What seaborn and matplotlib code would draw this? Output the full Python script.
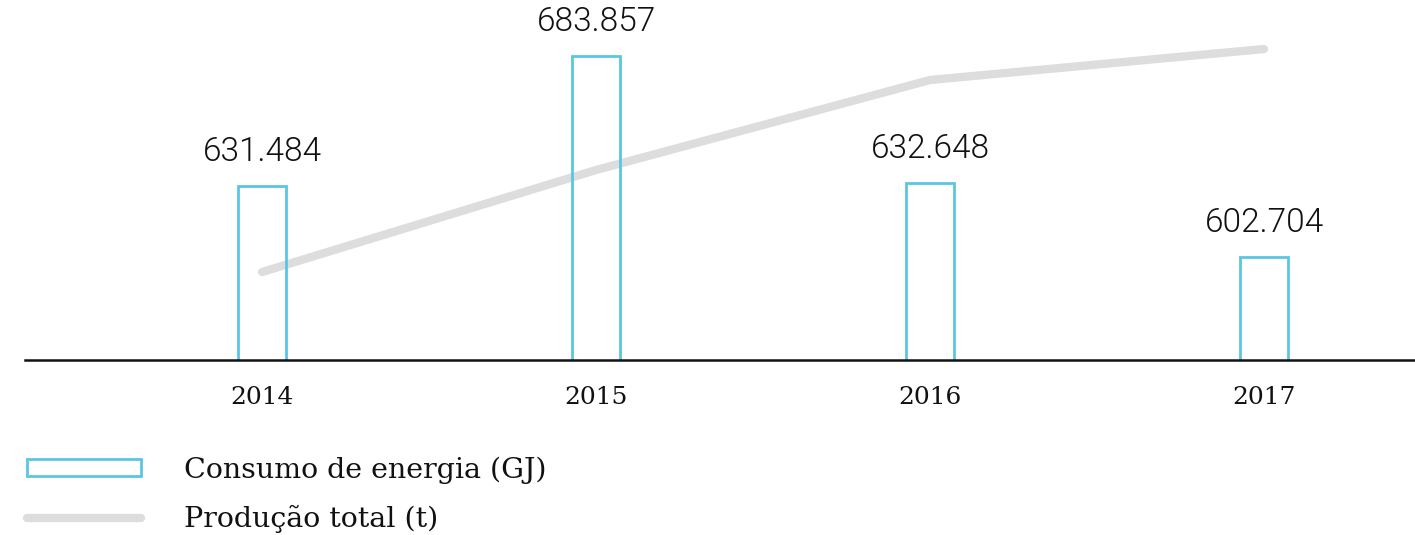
import numpy as np
import pandas as pd
import matplotlib
matplotlib.use('Agg')
import matplotlib.pyplot as plt
import seaborn as sns
from matplotlib.patches import Patch
from matplotlib.lines import Line2D

years = ['2014', '2015', '2016', '2017']
energy = [631484, 683857, 632648, 602704]  # Consumo de energia (GJ)
production = [88, 190, 280, 311]  # Produção total (t), relative scale
energy_labels = ['631.484', '683.857', '632.648', '602.704']

blue = '#5bc5e3'
gray = '#dddddd'

sns.set_theme(style='white')
plt.rcParams['font.family'] = ['DejaVu Serif']

df = pd.DataFrame({'year': years, 'energy': energy, 'production': production})

fig = plt.figure(figsize=(14.15, 5.35), dpi=100)
ax = fig.add_axes([25 / 1415, 175 / 535, 1 - 25 / 1415, 360 / 535])

sns.barplot(data=df, x='year', y='energy', ax=ax, width=0.144,
            color=blue, saturation=1)
for p in ax.patches:
    p.set_facecolor('none')
    p.set_edgecolor(blue)
    p.set_linewidth(2)

ax.set_ylim(561300, 706400)
ax.set_xlim(-0.71, 3.452)

for i, lab in enumerate(energy_labels):
    ax.annotate(lab, (i, energy[i]), xytext=(0, 13), textcoords='offset points',
                ha='center', va='bottom', fontsize=24, family='Roboto',
                fontweight=300, color='#111111')

ax2 = ax.twinx()
sns.lineplot(x=np.arange(len(years)), y=df['production'], ax=ax2, color=gray,
             lw=6, solid_capstyle='round', solid_joinstyle='round', zorder=1)
ax2.set_ylim(0, 360)
ax2.set_xlim(-0.71, 3.452)
ax2.axis('off')
ax.set_zorder(ax2.get_zorder() + 1)
ax.patch.set_visible(False)

for s in ['top', 'right', 'left']:
    ax.spines[s].set_visible(False)
ax.spines['bottom'].set_color('#111111')
ax.spines['bottom'].set_linewidth(1.8)
ax.set_yticks([])
ax.set_xlabel('')
ax.set_ylabel('')
ax.tick_params(axis='x', length=0, pad=19, labelsize=18, colors='#111111')

handles = [Patch(facecolor='none', edgecolor=blue, linewidth=2),
           Line2D([0], [0], color=gray, lw=6, solid_capstyle='round')]
fig.legend(handles, ['Consumo de energia (GJ)', 'Produção total (t)'],
           loc='lower left', bbox_to_anchor=(27 / 1415, 2 / 535),
           frameon=False, fontsize=20.5, handlelength=4.0, handleheight=0.55,
           handletextpad=1.5, labelspacing=0.75, borderpad=0, borderaxespad=0,
           labelcolor='#111111')

fig.savefig('out.png', dpi=100)
